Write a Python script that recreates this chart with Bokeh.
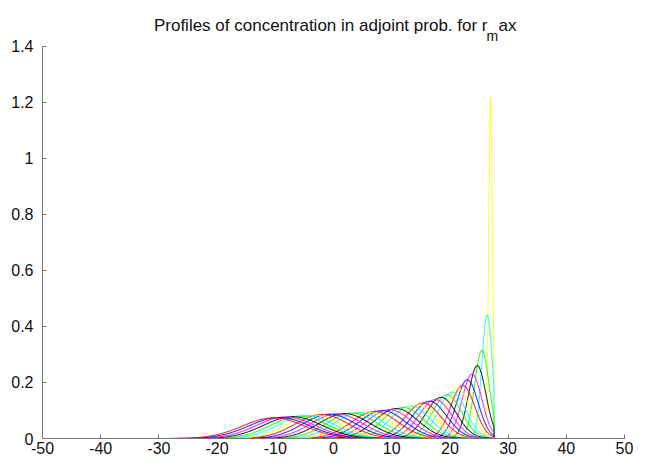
import numpy as np
from bokeh.plotting import figure
from bokeh.models import Label, FixedTicker
from bokeh.embed import file_html
from bokeh.resources import INLINE

# ---- data ----
# peak positions, peak heights and widths (sigma) of each concentration profile, right to left
peak_x = [27.0, 26.4, 25.5, 24.7, 23.8, 23.0, 22.2, 21.3, 20.4, 19.5, 18.5, 17.5, 16.5,
          15.4, 14.3, 13.2, 12.0, 10.8, 9.6, 8.4, 7.1, 5.8, 4.5, 3.2, 1.9, 0.6, -0.7,
          -2.0, -3.3, -4.6, -5.8, -7.0, -8.2, -9.3, -10.3]
peak_h = [1.22, 0.44, 0.315, 0.26, 0.23, 0.21, 0.19, 0.178, 0.166, 0.156, 0.147, 0.139,
          0.133, 0.127, 0.121, 0.116, 0.111, 0.107, 0.103, 0.100, 0.097, 0.095, 0.093,
          0.091, 0.089, 0.088, 0.087, 0.086, 0.084, 0.082, 0.080, 0.078, 0.077, 0.075, 0.074]
peak_w = [0.32, 0.9, 1.25, 1.5, 1.7, 1.86, 2.05, 2.2, 2.35, 2.5, 2.65, 2.8, 2.93, 3.07,
          3.22, 3.36, 3.5, 3.65, 3.8, 3.9, 4.0, 4.1, 4.2, 4.3, 4.4, 4.45, 4.5, 4.55, 4.65,
          4.75, 4.85, 5.0, 5.05, 5.2, 5.3]
boundary_x = 27.6
color_cycle = ["#ffff00", "#00ffff", "#00ff00", "#000000", "#ff00ff", "#0000ff", "#ff0000"]

x_ticks = [-50, -40, -30, -20, -10, 0, 10, 20, 30, 40, 50]
x_tick_labels = ["-50", "-40", "-30", "-20", "-10", "0", "10", "20", "30", "40", "50"]
y_ticks = [0, 0.2, 0.4, 0.6, 0.8, 1, 1.2, 1.4]
y_tick_labels = ["0", "0.2", "0.4", "0.6", "0.8", "1", "1.2", "1.4"]

title_main = "Profiles of concentration in adjoint prob. for r"
title_sub = "m"
title_end = "ax"

FONT = "Liberation Sans"

# frame spans the full height above the x axis; the y axis itself is bounded to 0..1.4
p = figure(width=633, height=459, x_range=(-50, 50), y_range=(0, 1.564),
           output_backend="svg", toolbar_location=None,
           min_border_left=42, min_border_right=9, min_border_top=0, min_border_bottom=21)
p.title.visible = False
p.grid.visible = False
p.outline_line_color = None
p.background_fill_color = "white"
p.border_fill_color = "white"

xs = np.linspace(-50, 50, 4001)
n = len(peak_x)
for k in range(n):
    ys = peak_h[k] * np.exp(-0.5 * ((xs - peak_x[k]) / peak_w[k]) ** 2)
    ys[xs >= boundary_x] = 0.0
    p.line(xs, ys, line_color=color_cycle[k % len(color_cycle)], line_width=1.1, line_alpha=0.8)

for ax in (p.xaxis[0], p.yaxis[0]):
    ax.axis_line_color = "#777777"
    ax.major_tick_line_color = "#777777"
    ax.major_tick_in = 4
    ax.major_tick_out = 0
    ax.minor_tick_line_color = None
    ax.major_label_text_font = FONT
    ax.major_label_text_font_size = "16px"
    ax.major_label_text_color = "#111111"

p.xaxis[0].ticker = FixedTicker(ticks=x_ticks)
p.xaxis[0].major_label_overrides = {t: s for t, s in zip(x_ticks, x_tick_labels)}
p.xaxis[0].major_label_standoff = 3
p.yaxis[0].ticker = FixedTicker(ticks=y_ticks)
p.yaxis[0].major_label_overrides = {t: s for t, s in zip(y_ticks, y_tick_labels)}
p.yaxis[0].major_label_standoff = 9
p.yaxis[0].bounds = (0, 1.4)

p.add_layout(Label(x=445, y=413, x_units="screen", y_units="screen", text=title_main,
                   text_align="right", text_baseline="alphabetic", text_font=FONT,
                   text_font_size="17px", text_color="#111111"))
p.add_layout(Label(x=444, y=403, x_units="screen", y_units="screen", text=title_sub,
                   text_align="left", text_baseline="alphabetic", text_font=FONT,
                   text_font_size="14px", text_color="#111111"))
p.add_layout(Label(x=456, y=413, x_units="screen", y_units="screen", text=title_end,
                   text_align="left", text_baseline="alphabetic", text_font=FONT,
                   text_font_size="17px", text_color="#111111"))

open("out.html", "w").write(file_html(p, INLINE))
